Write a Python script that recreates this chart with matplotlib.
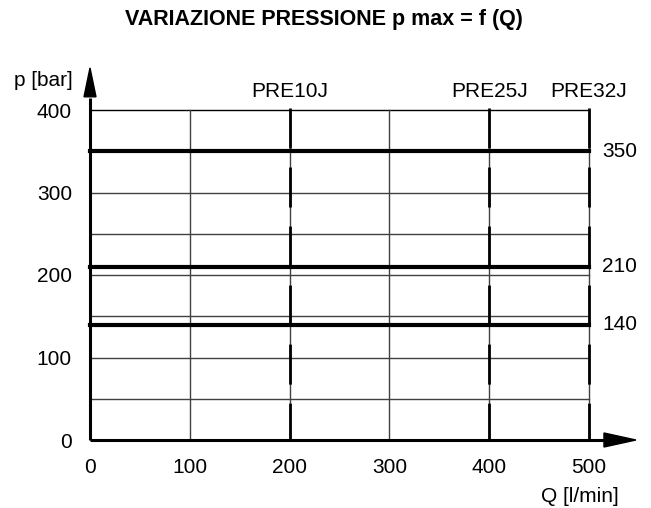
import matplotlib as mpl
import matplotlib.pyplot as plt
from matplotlib.patches import Polygon

# data
x_ticks = [0, 100, 200, 300, 400, 500]
y_ticks = [0, 100, 200, 300, 400]
grid_y = [50, 100, 150, 200, 250, 300, 350, 400]
grid_x = [100, 200, 300, 400, 500]
p_max = [350, 210, 140]
models = ["PRE10J", "PRE25J", "PRE32J"]
model_q = [200, 400, 500]

mpl.rcParams.update({
    "font.family": ["Liberation Sans", "DejaVu Sans"],
    "font.size": 15,
    "lines.scale_dashes": False,
})

fig = plt.figure(figsize=(6.51, 5.08), dpi=100)
ax = fig.add_axes([90 / 651, 68 / 508, 499 / 651, 330 / 508])
ax.set_xlim(0, 500)
ax.set_ylim(0, 400)
for s in ax.spines.values():
    s.set_visible(False)

# thin grid
for gy in grid_y:
    ax.plot([0, 500], [gy, gy], color="#404040" if gy != 400 else "black", lw=1.0,
            zorder=1, clip_on=False)
for gx in grid_x:
    ax.plot([gx, gx], [0, 400], color="#404040", lw=1.0, zorder=1, clip_on=False)

# thick pressure lines
for p in p_max:
    ax.plot([0, 500], [p, p], color="black", lw=3.0, zorder=3, clip_on=False)
    ax.text(513, p, str(p), ha="left", va="center", fontsize=15)

# dashed model lines
for q, name in zip(model_q, models):
    ax.plot([q, q], [402, 0], color="black", lw=2.0, zorder=2,
            dashes=(28.8, 13.7), clip_on=False)
    ax.text(q, 422, name, ha="center", va="center", fontsize=15)

# axes with arrows
ax.plot([0, 0], [0, 415], color="black", lw=2.2, zorder=4, clip_on=False,
        solid_capstyle="butt")
ax.plot([0, 520], [0, 0], color="black", lw=2.2, zorder=4, clip_on=False,
        solid_capstyle="butt")
ax.add_patch(Polygon([(-6, 416), (6, 416), (0, 451)], closed=True, color="black",
                     clip_on=False, zorder=5))
ax.add_patch(Polygon([(515, -8.5), (515, 8.5), (547, 0)], closed=True, color="black",
                     clip_on=False, zorder=5))

ax.set_xticks(x_ticks)
ax.set_yticks(y_ticks)
ax.tick_params(length=0, labelsize=15)
ax.tick_params(axis="x", pad=13)
ax.tick_params(axis="y", pad=13)

ax.text(-17, 436, "p [bar]", ha="right", va="center", fontsize=15)
ax.text(530, -69, "Q [l/min]", ha="right", va="center", fontsize=15)
fig.text(323.5 / 651, 1 - 19.5 / 508, "VARIAZIONE PRESSIONE p max = f (Q)",
         ha="center", va="center", fontsize=15.5, fontweight="bold")

fig.savefig("out.png", dpi=100)
